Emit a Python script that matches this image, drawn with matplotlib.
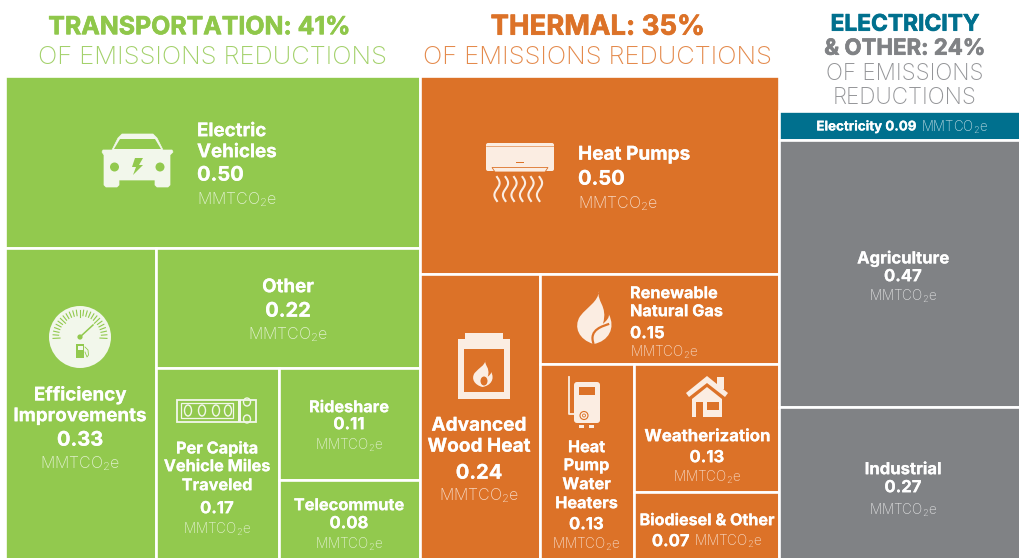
#!/usr/bin/env python3
"""Emissions reductions treemap by sector."""

import numpy as np
import matplotlib
matplotlib.use("Agg")
import matplotlib.pyplot as plt
import matplotlib.patheffects as pe
from matplotlib.patches import Rectangle, Circle, Ellipse, Polygon, PathPatch, FancyBboxPatch
from matplotlib.path import Path

BOLD = "Inter"
LIGHT = "Inter"
plt.rcParams["mathtext.default"] = "regular"

GREEN = "#92C94E"
ORANGE = "#DC7228"
TEAL = "#00708E"
GREY = "#808285"
GREEN_ICON = "#F2F7EB"
ORANGE_ICON = "#FBEDE2"
UNIT = "MMTCO$_2$e"

transport_names = ["Electric Vehicles", "Efficiency Improvements", "Other",
                   "Per Capita Vehicle Miles Traveled", "Rideshare", "Telecommute"]
transport_values = [0.50, 0.33, 0.22, 0.165, 0.11, 0.08]
thermal_names = ["Heat Pumps", "Advanced Wood Heat", "Renewable Natural Gas",
                 "Heat Pump Water Heaters", "Weatherization", "Biodiesel & Other"]
thermal_values = [0.50, 0.24, 0.15, 0.13, 0.13, 0.07]
other_names = ["Electricity", "Agriculture", "Industrial"]
other_values = [0.09, 0.47, 0.27]
sector_shares = [41, 35, 24]

# treemap layout, figure pixels
COLUMN_TOP = 75.5
COLUMN_TOP_OTHER = 111
BOTTOM = 561
EDGES = [5, 420, 779.5, 1022]
ELECTRICITY_STRIP = 29  # drawn taller than its share, as in the original
YSHIFT = 3.2


def split(box, sizes, horizontal):
    """Cut box (x0, y0, x1, y1) into slices proportional to sizes."""
    x0, y0, x1, y1 = box
    cuts = np.cumsum([0] + list(sizes)) / sum(sizes)
    if horizontal:
        xs = x0 + cuts * (x1 - x0)
        return [(xs[i], y0, xs[i + 1], y1) for i in range(len(sizes))]
    ys = y0 + cuts * (y1 - y0)
    return [(x0, ys[i], x1, ys[i + 1]) for i in range(len(sizes))]


def layout_six(box, v):
    """Nested slice layout shared by the transportation and thermal columns."""
    top, rest = split(box, [v[0], sum(v[1:])], False)
    left, right = split(rest, [v[1], sum(v[2:])], True)
    upper, lower = split(right, [v[2], sum(v[3:])], False)
    tall, stack = split(lower, [v[3], sum(v[4:])], True)
    first, second = split(stack, [v[4], v[5]], False)
    return [top, left, upper, tall, first, second]


def tile(ax, box, color):
    x0, y0, x1, y1 = box
    ax.add_patch(Rectangle((x0, y0), x1 - x0, y1 - y0, facecolor=color,
                           edgecolor="white", linewidth=1.9, zorder=1))


def bold(ax, x, y, s, size=13.5, color="white", ha="center", stroke=0.12):
    t = ax.text(x, y + YSHIFT, s, fontsize=size, color=color, family=BOLD, weight="bold",
                ha=ha, va="center", zorder=5)
    if stroke:
        t.set_path_effects([pe.withStroke(linewidth=stroke, foreground=color)])
    return t


def light(ax, x, y, s=UNIT, size=11.5, color="#FFFFFF", ha="center", alpha=0.72):
    return ax.text(x, y + YSHIFT, s, fontsize=size, color=color, family=LIGHT, weight="light",
                   ha=ha, va="center", alpha=alpha, zorder=5)


def mixed_line(ax, fig, xc, y, pieces):
    """Centre a line made of (string, is_bold, size) pieces on xc."""
    rend = fig.canvas.get_renderer()
    items = []
    for s, is_bold, size in pieces:
        t = bold(ax, 0, y, s, size, ha="left") if is_bold else light(ax, 0, y, s, size, ha="left")
        items.append((t, t.get_window_extent(rend).width))
    gap = 4
    x = xc - (sum(w for _, w in items) + gap * (len(items) - 1)) / 2
    for t, w in items:
        t.set_x(x)
        x += w + gap


def car(ax, c, bg):
    ax.add_patch(Polygon([(104, 155), (102, 152), (103, 150), (112, 150), (118, 138), (122, 134),
                          (153, 134), (157, 138), (163, 150), (172, 150), (173, 152), (170, 155),
                          (170, 185), (168, 187), (157, 187), (155, 185), (155, 180), (119, 180),
                          (119, 185), (117, 187), (106, 187), (104, 185)], fc=c, ec=c, lw=0.5, zorder=3))
    ax.add_patch(Polygon([(114, 149), (120, 139), (155, 139), (161, 149)], fc=bg, zorder=4))
    ax.add_patch(Circle((114.5, 167), 4.5, fc=bg, zorder=4))
    ax.add_patch(Circle((160, 167), 4.5, fc=bg, zorder=4))
    ax.add_patch(Polygon([(135, 158), (143, 158), (139, 165), (143, 165), (133, 175), (136, 167), (132, 167)],
                         fc=bg, zorder=4))


def gauge(ax, c, bg):
    cx, cy = 80, 337
    ax.add_patch(Circle((cx, cy), 31, fc=c, zorder=3))
    for a in np.linspace(-3, 183, 25):
        r = np.radians(a)
        r0 = 20 if int(round((a + 3) / 7.75)) % 6 == 0 else 21.5
        ax.plot([cx + r0 * np.cos(r), cx + 27 * np.cos(r)], [cy - r0 * np.sin(r), cy - 27 * np.sin(r)],
                color=bg, lw=0.8, zorder=4)
    ax.plot([cx, cx + 13], [cy, cy - 12], color=bg, lw=1.1, zorder=4)
    ax.add_patch(Circle((cx, cy), 2.6, fc=bg, zorder=4))
    ax.add_patch(Rectangle((76.5, 344), 8, 14, fc=bg, zorder=4))
    ax.add_patch(Rectangle((78, 346), 5, 3.5, fc=c, zorder=5))
    ax.plot([85, 88, 88.5, 87, 85], [347, 350, 355, 357, 352], color=bg, lw=0.6, zorder=4)


def odometer(ax, c):
    ax.add_patch(Rectangle((177.5, 399.5), 79, 22, fc="none", ec=c, lw=1.3, zorder=3))
    ax.add_patch(Rectangle((181.5, 403), 52, 15, fc="none", ec=c, lw=0.9, zorder=3))
    for x in (188, 202, 216, 228):
        ax.add_patch(Ellipse((x, 410.5), 7, 11, fc="none", ec=c, lw=1.0, zorder=3))
    ax.add_patch(Rectangle((238, 399.5), 3, 22, fc=c, zorder=3))
    ax.add_patch(Ellipse((247, 402), 7, 8, fc="none", ec=c, lw=1.0, zorder=3))
    ax.add_patch(Ellipse((247, 419), 7, 8, fc="none", ec=c, lw=1.0, zorder=3))


def heat_pump(ax, c, bg):
    ax.add_patch(FancyBboxPatch((488, 145), 64, 24, boxstyle="round,pad=2", fc=c, ec="none", zorder=3))
    for x in (503, 520, 537):
        ax.add_patch(Rectangle((x - 4, 142.5), 8, 2, fc=c, zorder=3))
    ax.plot([486, 554], [146, 146], color=bg, lw=0.4, zorder=4)
    ax.add_patch(Rectangle((516, 162), 8, 1.4, fc=bg, zorder=4))
    ax.add_patch(Polygon([(492, 167.5), (548, 167.5), (545, 172), (495, 172)], fc=c, ec=bg, lw=0.6, zorder=4))
    yy = np.linspace(177, 201, 40)
    for x0 in (497, 505.5, 514, 522.5, 531, 539.5):
        ax.plot(x0 + 2.6 * np.sin((yy - 177) / 24 * 2 * np.pi), yy, color=c, lw=1.5, zorder=3)


def flame(ax, x, y, w, h, c, bg, lw=1.6):
    """Flame in box with top-left corner (x, y)."""
    pts = [(0.60, 0.0), (0.50, 0.18), (0.85, 0.28), (0.70, 0.62),
           (0.80, 0.56), (0.88, 0.50), (0.86, 0.44),
           (1.05, 0.70), (0.85, 0.95), (0.45, 1.0),
           (0.05, 0.92), (-0.10, 0.68), (0.08, 0.48),
           (0.30, 0.28), (0.55, 0.22), (0.60, 0.0)]
    codes = [Path.MOVETO] + [Path.CURVE4] * 15
    verts = [(x + px * w, y + py * h) for px, py in pts]
    ax.add_patch(PathPatch(Path(verts, codes), fc=c, ec="none", zorder=3))
    curve = [(0.87, 0.62), (0.72, 0.66), (0.30, 0.72), (0.45, 1.0)]
    verts = [(x + px * w, y + py * h) for px, py in curve]
    ax.add_patch(PathPatch(Path(verts, [Path.MOVETO] + [Path.CURVE4] * 3), fc="none", ec=bg, lw=lw, zorder=4))


def stove(ax, c, bg):
    ax.add_patch(Rectangle((458, 339), 52, 60, fc=c, zorder=3))
    ax.add_patch(Rectangle((465, 333), 38, 7, fc=c, zorder=3))
    ax.add_patch(Rectangle((464, 349), 40, 43, fc=bg, zorder=4))
    flame(ax, 473, 360, 21, 27, c, bg, lw=0)
    for art in ax.patches[-2:]:
        art.set_zorder(5)
    ax.add_patch(Ellipse((484, 381), 7, 9, fc=bg, zorder=6))


def water_heater(ax, c, bg):
    ax.add_patch(FancyBboxPatch((577, 385), 20, 35, boxstyle="round,pad=3", fc=c, ec="none", zorder=3))
    ax.add_patch(Rectangle((579, 387), 16, 8, fc=bg, zorder=4))
    ax.plot([569, 569, 584], [377, 414, 414], color=c, lw=1.3, zorder=3)
    ax.add_patch(Circle((584, 415.5), 4, fc=c, ec=bg, lw=0.8, zorder=5))
    ax.add_patch(Circle((584, 415.5), 1.5, fc=c, ec=bg, lw=0.6, zorder=6))
    for x in (582, 592):
        ax.add_patch(Rectangle((x - 2.5, 425), 5, 3, fc=c, zorder=3))


def house(ax, c, bg):
    ax.add_patch(Rectangle((717, 377), 7, 12, fc=c, zorder=3))
    ax.add_patch(Polygon([(707, 376), (728, 393), (725, 397), (707, 383), (689, 397), (686, 393)], fc=c, zorder=4))
    ax.add_patch(Polygon([(707, 387), (722, 399), (722, 417), (692, 417), (692, 399)], fc=c, zorder=3))
    ax.add_patch(Rectangle((707, 402), 12, 8, fc=bg, zorder=4))
    ax.add_patch(Rectangle((696, 402), 7, 15, fc=bg, zorder=4))


def main():
    fig = plt.figure(figsize=(10.19, 5.58), dpi=100)
    ax = fig.add_axes([0, 0, 1, 1])
    ax.set_xlim(0, 1019)
    ax.set_ylim(558, 0)
    ax.axis("off")

    for b in layout_six((EDGES[0], COLUMN_TOP, EDGES[1], BOTTOM), transport_values):
        tile(ax, b, GREEN)
    for b in layout_six((EDGES[1], COLUMN_TOP, EDGES[2], BOTTOM), thermal_values):
        tile(ax, b, ORANGE)
    strip = (EDGES[2], COLUMN_TOP_OTHER, EDGES[3], COLUMN_TOP_OTHER + ELECTRICITY_STRIP)
    tile(ax, strip, TEAL)
    rest = (EDGES[2], COLUMN_TOP_OTHER + ELECTRICITY_STRIP, EDGES[3], BOTTOM)
    for b in split(rest, other_values[1:], False):
        tile(ax, b, GREY)

    # headers
    head_green = "#8FC74A"
    head_orange = "#DC7228"
    bold(ax, 199, 24.5, f"TRANSPORTATION: {sector_shares[0]}%", 17.9, head_green, stroke=0.5)
    light(ax, 212.5, 54.5, "OF EMISSIONS REDUCTIONS", 18.4, "#A3D16B", alpha=1)
    bold(ax, 597.5, 24.5, f"THERMAL: {sector_shares[1]}%", 19.8, head_orange, stroke=0.5)
    light(ax, 597.5, 54.5, "OF EMISSIONS REDUCTIONS", 18.4, "#E48A4C", alpha=1)
    bold(ax, 905, 21.5, "ELECTRICITY", 16.4, TEAL, stroke=0.5)
    bold(ax, 905, 45.5, f"& OTHER: {sector_shares[2]}%", 16, GREY, stroke=0.5)
    light(ax, 905, 70.5, "OF EMISSIONS", 16.2, "#949598", alpha=1)
    light(ax, 905, 94.5, "REDUCTIONS", 16.2, "#949598", alpha=1)

    # transportation labels
    v = transport_values
    bold(ax, 197, 128.5, "Electric", ha="left")
    bold(ax, 197, 149.5, "Vehicles", ha="left")
    bold(ax, 197, 172.5, f"{v[0]:.2f}", 14.5, ha="left")
    light(ax, 197, 196.5, ha="left")
    bold(ax, 80, 392.5, "Efficiency")
    bold(ax, 80, 413.5, "Improvements")
    bold(ax, 80, 437.5, f"{v[1]:.2f}", 14.5)
    light(ax, 80, 460.5)
    bold(ax, 288, 284.5, transport_names[2])
    bold(ax, 288, 308.5, f"{v[2]:.2f}", 14.5)
    light(ax, 288, 331.5)
    for y, s in zip((445.5, 463.5, 482.5), ("Per Capita", "Vehicle Miles", "Traveled")):
        bold(ax, 217, y, s, 11.7)
    bold(ax, 217, 505.5, f"{v[3]:.2f}", 12)
    light(ax, 217, 526.5, size=9.8)
    bold(ax, 349, 404.5, transport_names[4], 11.7)
    bold(ax, 349, 421.5, f"{v[4]:.2f}", 12)
    light(ax, 349, 442.5, size=9.8)
    bold(ax, 349, 502.5, transport_names[5], 11.8)
    bold(ax, 349, 520.5, f"{v[5]:.2f}", 12)
    light(ax, 349, 541.5, size=9.8)

    # thermal labels
    v = thermal_values
    bold(ax, 578, 151.5, thermal_names[0], 13.7, ha="left")
    bold(ax, 578, 176.5, f"{v[0]:.2f}", 14.5, ha="left")
    light(ax, 578, 200.5, ha="left")
    bold(ax, 479, 422.5, "Advanced", 13.7)
    bold(ax, 479, 443.5, "Wood Heat", 13.7)
    bold(ax, 479, 470.5, f"{v[1]:.2f}", 14.5)
    light(ax, 479, 492.5)
    bold(ax, 630, 290.5, "Renewable", 11.7, ha="left")
    bold(ax, 630, 308.5, "Natural Gas", 11.7, ha="left")
    bold(ax, 630, 330.5, f"{v[2]:.2f}", 12, ha="left")
    light(ax, 630, 349.5, size=9.8, ha="left")
    for y, s in zip((444.5, 462.5, 481.5, 500.5), ("Heat", "Pump", "Water", "Heaters")):
        bold(ax, 586.5, y, s, 11.7)
    bold(ax, 586.5, 521.5, f"{v[3]:.2f}", 12)
    light(ax, 586.5, 541.5, size=9.8)
    bold(ax, 707, 433.5, thermal_names[4], 12.1)
    bold(ax, 707, 454.5, f"{v[4]:.2f}", 12)
    light(ax, 707, 474.5, size=9.8)
    bold(ax, 707, 517.5, thermal_names[5], 11.6)
    mixed_line(ax, fig, 707, 538.5, [(f"{v[5]:.2f}", True, 12), (UNIT, False, 9.8)])

    # electricity and other labels
    v = other_values
    mixed_line(ax, fig, 902, 124, [(f"{other_names[0]} {v[0]:.2f}", True, 9.6), (UNIT, False, 9.6)])
    bold(ax, 903, 255.5, other_names[1], 12)
    bold(ax, 903, 273.5, f"{v[1]:.2f}", 12)
    light(ax, 903, 293.5, size=9.8)
    bold(ax, 903, 466.5, other_names[2], 12)
    bold(ax, 903, 484.5, f"{v[2]:.2f}", 12)
    light(ax, 903, 507.5, size=9.8)

    # icons
    car(ax, GREEN_ICON, GREEN)
    gauge(ax, GREEN_ICON, GREEN)
    odometer(ax, GREEN_ICON)
    heat_pump(ax, ORANGE_ICON, ORANGE)
    flame(ax, 577, 291, 37, 53, ORANGE_ICON, ORANGE)
    stove(ax, ORANGE_ICON, ORANGE)
    water_heater(ax, ORANGE_ICON, ORANGE)
    house(ax, ORANGE_ICON, ORANGE)

    fig.savefig("out.png", dpi=100, facecolor="white")


if __name__ == "__main__":
    main()
